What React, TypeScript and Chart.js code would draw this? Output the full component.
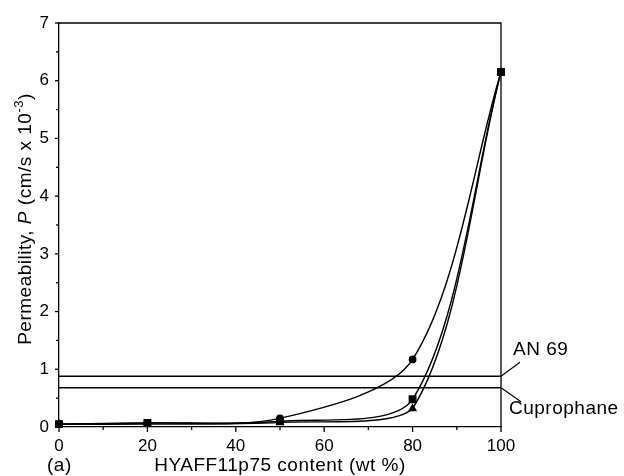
import React, { useEffect, useRef } from "react";
import { Chart, registerables } from "chart.js";

Chart.register(...registerables);

const xValues = [0, 20, 50, 80, 100];
const circleSeries = [0.05, 0.07, 0.15, 1.17, 6.15];
const squareSeries = [0.05, 0.07, 0.1, 0.48, 6.15];
const triangleSeries = [0.05, 0.05, 0.08, 0.32, 6.15];
const an69Level = 0.88;
const cuprophaneLevel = 0.68;
const refX = [0, 100];
const xTicks = [0, 20, 40, 60, 80, 100];
const yTicks = [0, 1, 2, 3, 4, 5, 6, 7];

const FONT = "'Liberation Sans', Arial, sans-serif";

const toPts = (ys: number[]) => xValues.map((x, i) => ({ x, y: ys[i] }));

const decorPlugin = {
  id: "decor",
  afterDraw(chart: any) {
    const { ctx, chartArea: a, scales } = chart;
    const xs = scales.x;
    const ys = scales.y;
    ctx.save();
    ctx.strokeStyle = "#000";
    ctx.fillStyle = "#000";
    ctx.lineWidth = 1.3;
    ctx.beginPath();
    ctx.moveTo(a.left, a.top);
    ctx.lineTo(a.right, a.top);
    ctx.lineTo(a.right, a.bottom);
    ctx.stroke();
    for (let v = 0; v <= 100; v += 10) {
      const px = xs.getPixelForValue(v);
      const len = v % 20 === 0 ? 5 : 3;
      ctx.beginPath();
      ctx.moveTo(px, a.bottom);
      ctx.lineTo(px, a.bottom + len);
      ctx.stroke();
    }
    for (let v = 0; v <= 7; v += 0.5) {
      const py = ys.getPixelForValue(v);
      const len = Number.isInteger(v) ? 4 : 3;
      ctx.beginPath();
      ctx.moveTo(a.left, py);
      ctx.lineTo(a.left - len, py);
      ctx.stroke();
    }
    const yAN = ys.getPixelForValue(an69Level);
    const yCu = ys.getPixelForValue(cuprophaneLevel);
    ctx.lineWidth = 1.1;
    ctx.beginPath();
    ctx.moveTo(a.right, yAN);
    ctx.lineTo(a.right + 19, yAN - 14);
    ctx.moveTo(a.right, yCu);
    ctx.lineTo(a.right + 20, yCu + 14);
    ctx.stroke();
    (ctx as any).letterSpacing = "0.5px";
    ctx.font = `19px ${FONT}`;
    ctx.textAlign = "left";
    ctx.textBaseline = "alphabetic";
    ctx.fillText("AN 69", a.right + 12, yAN - 21);
    ctx.fillText("Cuprophane", a.right + 8, yCu + 26);
    ctx.textAlign = "center";
    ctx.fillText("HYAFF11p75 content (wt %)", (a.left + a.right) / 2, 471);
    ctx.textAlign = "left";
    ctx.fillText("(a)", 47, 471);
    ctx.save();
    ctx.translate(31, (a.top + a.bottom) / 2 - 6);
    ctx.rotate(-Math.PI / 2);
    const parts: { t: string; f: string; dy: number }[] = [
      { t: "Permeability, ", f: `19px ${FONT}`, dy: 0 },
      { t: "P", f: `italic 19px ${FONT}`, dy: 0 },
      { t: " (cm/s x 10", f: `19px ${FONT}`, dy: 0 },
      { t: "-3", f: `13px ${FONT}`, dy: -8 },
      { t: ")", f: `19px ${FONT}`, dy: 0 },
    ];
    let total = 0;
    for (const p of parts) {
      ctx.font = p.f;
      total += ctx.measureText(p.t).width;
    }
    let cx = -total / 2;
    for (const p of parts) {
      ctx.font = p.f;
      ctx.fillText(p.t, cx, p.dy);
      cx += ctx.measureText(p.t).width;
    }
    ctx.restore();
    ctx.restore();
  },
};

export default function App() {
  const ref = useRef<HTMLCanvasElement>(null);
  useEffect(() => {
    if (!ref.current) return;
    const lineCommon = {
      borderColor: "#000",
      backgroundColor: "#000",
      borderWidth: 1.4,
      tension: 0.3,
      clip: false as any,
      pointBorderColor: "#000",
      pointBackgroundColor: "#000",
    };
    const chart = new Chart(ref.current, {
      type: "line",
      data: {
        datasets: [
          {
            label: "AN 69",
            data: refX.map((x) => ({ x, y: an69Level })),
            borderColor: "#000",
            borderWidth: 1.5,
            pointRadius: 0,
            clip: false as any,
          },
          {
            label: "Cuprophane",
            data: refX.map((x) => ({ x, y: cuprophaneLevel })),
            borderColor: "#000",
            borderWidth: 1.5,
            pointRadius: 0,
            clip: false as any,
          },
          {
            ...lineCommon,
            label: "circle",
            data: toPts(circleSeries),
            pointStyle: "circle",
            pointRadius: 3.2,
          },
          {
            ...lineCommon,
            label: "square",
            data: toPts(squareSeries),
            pointStyle: "rect",
            pointRadius: 4.6,
          },
          {
            ...lineCommon,
            label: "triangle",
            data: toPts(triangleSeries),
            pointStyle: "triangle",
            pointRadius: 3.8,
          },
        ],
      },
      options: {
        animation: false,
        responsive: false,
        maintainAspectRatio: false,
        layout: { padding: { left: 0, top: 23, right: 123, bottom: 0 } },
        plugins: { legend: { display: false }, tooltip: { enabled: false } },
        scales: {
          x: {
            type: "linear",
            min: 0,
            max: 100,
            afterBuildTicks: (s: any) => {
              s.ticks = xTicks.map((v) => ({ value: v }));
            },
            afterFit: (s: any) => {
              s.height = 49;
            },
            ticks: {
              color: "#000",
              font: { family: FONT, size: 17 },
              padding: 9,
              maxRotation: 0,
            },
            grid: { display: false, drawTicks: false },
            border: { display: true, color: "#000", width: 1.3 },
          },
          y: {
            type: "linear",
            min: 0,
            max: 7,
            afterBuildTicks: (s: any) => {
              s.ticks = yTicks.map((v) => ({ value: v }));
            },
            afterFit: (s: any) => {
              s.width = 59;
            },
            ticks: {
              color: "#000",
              font: { family: FONT, size: 17 },
              padding: 10,
            },
            grid: { display: false, drawTicks: false },
            border: { display: true, color: "#000", width: 1.3 },
          },
        },
      },
      plugins: [decorPlugin],
    });
    return () => chart.destroy();
  }, []);
  return (
    <div
      style={{
        position: "fixed",
        left: 0,
        top: 0,
        width: 624,
        height: 476,
        background: "#fff",
      }}
    >
      <canvas ref={ref} width={624} height={476} style={{ width: 624, height: 476 }} />
    </div>
  );
}
